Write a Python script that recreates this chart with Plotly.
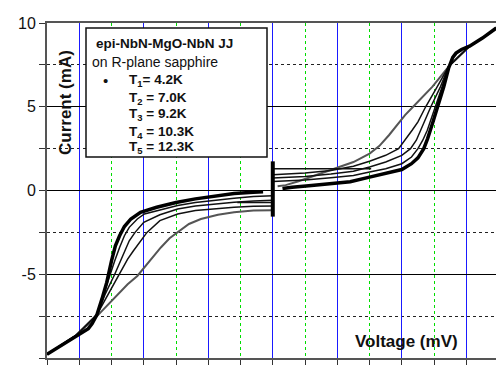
import plotly.graph_objects as go

# ---------------- data ----------------
# T1 = 4.2 K
t1_neg_v = [-7.0, -6.6, -6.1, -5.9, -5.72, -5.6, -5.45, -5.3, -5.15, -5.0, -4.88, -4.75, -4.6, -4.4, -4.1, -3.6, -3.0, -2.4, -1.8, -1.2, -0.6, -0.3]
t1_neg_i = [-9.78, -9.3, -8.65, -8.45, -8.25, -7.95, -7.4, -6.5, -5.5, -4.2, -3.3, -2.7, -2.15, -1.7, -1.3, -1.0, -0.72, -0.5, -0.32, -0.18, -0.1, -0.08]
t1_pos_v = [0.3, 0.6, 1.2, 1.8, 2.4, 3.0, 3.5, 4.0, 4.3, 4.5, 4.68, 4.8, 4.95, 5.1, 5.3, 5.45, 5.58, 5.68, 5.85, 6.1, 6.5, 6.93]
t1_pos_i = [0.12, 0.2, 0.3, 0.4, 0.52, 0.8, 1.0, 1.25, 1.6, 1.95, 2.5, 3.1, 4.0, 4.9, 6.2, 7.3, 7.95, 8.2, 8.42, 8.62, 9.1, 9.7]

# T2 = 7.0 K
t2_neg_v = [-7.0, -6.6, -6.1, -5.45, -5.25, -5.05, -4.9, -4.75, -4.6, -4.45, -4.2, -3.98, -3.5, -2.95, -2.4, -1.8, -1.2, -0.6, 0.0]
t2_neg_i = [-9.78, -9.3, -8.65, -7.4, -6.2, -5.0, -4.2, -3.4, -2.7, -2.2, -1.7, -1.4, -1.15, -0.9, -0.72, -0.58, -0.46, -0.36, -0.32]
t2_pos_v = [0.0, 0.5, 1.0, 1.8, 2.5, 3.0, 3.5, 4.0, 4.3, 4.5, 4.65, 4.79, 4.92, 5.05, 5.25, 5.45, 6.1, 6.5, 6.93]
t2_pos_i = [0.54, 0.57, 0.63, 0.76, 0.9, 1.1, 1.3, 1.6, 2.0, 2.5, 3.0, 3.6, 4.3, 5.0, 6.2, 7.4, 8.62, 9.1, 9.7]

# T3 = 9.2 K
t3_neg_v = [-7.0, -6.6, -6.1, -5.45, -5.2, -4.9, -4.75, -4.58, -4.45, -4.27, -4.0, -3.5, -2.95, -2.4, -1.8, -1.2, -0.6, 0.0]
t3_neg_i = [-9.78, -9.3, -8.65, -7.4, -6.2, -5.0, -4.3, -3.6, -3.0, -2.5, -1.9, -1.45, -1.1, -0.92, -0.8, -0.7, -0.62, -0.58]
t3_pos_v = [0.0, 0.5, 1.0, 1.8, 2.5, 3.0, 3.5, 4.0, 4.27, 4.45, 4.58, 4.75, 4.9, 5.2, 5.45, 6.1, 6.5, 6.93]
t3_pos_i = [0.74, 0.78, 0.84, 0.98, 1.15, 1.4, 1.7, 2.1, 2.5, 3.0, 3.6, 4.3, 5.0, 6.2, 7.4, 8.62, 9.1, 9.7]

# T4 = 10.3 K
t4_neg_v = [-7.0, -6.6, -6.1, -5.45, -5.1, -4.74, -4.5, -4.32, -4.1, -3.9, -3.5, -2.95, -2.4, -1.8, -1.2, -0.6, 0.0]
t4_neg_i = [-9.78, -9.3, -8.65, -7.4, -6.2, -5.0, -4.1, -3.6, -3.0, -2.5, -1.8, -1.4, -1.2, -1.08, -1.0, -0.94, -0.92]
t4_pos_v = [0.0, 0.5, 1.0, 1.8, 2.5, 3.0, 3.5, 3.9, 4.1, 4.32, 4.5, 4.74, 5.1, 5.45, 6.1, 6.5, 6.93]
t4_pos_i = [0.94, 0.98, 1.05, 1.2, 1.45, 1.75, 2.1, 2.5, 3.0, 3.6, 4.1, 5.0, 6.2, 7.4, 8.62, 9.1, 9.7]

# T5 = 12.3 K
t5_neg_v = [-7.0, -6.6, -6.1, -5.45, -5.0, -4.5, -4.2, -3.98, -3.7, -3.47, -3.2, -2.95, -2.6, -2.23, -1.7, -1.2, -0.6, 0.0]
t5_neg_i = [-9.78, -9.3, -8.65, -7.5, -6.6, -5.6, -5.1, -4.6, -3.9, -3.4, -2.85, -2.5, -2.0, -1.7, -1.45, -1.3, -1.2, -1.18]
t5_pos_v = [0.15, 0.4, 0.8, 1.3, 2.0, 2.5, 3.0, 3.3, 3.6, 3.85, 4.1, 4.35, 4.6, 4.95, 5.2, 5.45, 6.1, 6.5, 6.93]
t5_pos_i = [0.25, 0.32, 0.55, 0.9, 1.35, 1.7, 2.2, 2.65, 3.3, 3.9, 4.5, 5.0, 5.5, 6.2, 6.8, 7.4, 8.62, 9.1, 9.7]

# supercurrent branch at V = 0 and switching jumps
bar_v = [0.0, 0.0]
bar_i = [-1.56, 1.74]
jump_pos_v = [0.0, 3.05]
jump_pos_i = [1.3, 1.3]
jump_neg_v = [0.0, -1.1]
jump_neg_i = [-0.72, -0.72]

legend_title = "epi-NbN-MgO-NbN JJ"
legend_sub = "on R-plane sapphire"
legend_labels = ["T<sub>1</sub>= 4.2K", "T<sub>2</sub> = 7.0K", "T<sub>3</sub> = 9.2K",
                 "T<sub>4</sub> = 10.3K", "T<sub>5</sub> = 12.3K"]
y_tick_vals = [-10, -5, 0, 5, 10]
y_tick_text = ["-10", "-5", "0", "5", "10"]
x_range = [-7.0, 6.92]
y_range = [-10, 10]

FONT = "Liberation Sans, Arial, sans-serif"

fig = go.Figure()


def add_curve(v, i, color, width):
    fig.add_trace(go.Scatter(x=v, y=i, mode="lines", line=dict(color=color, width=width),
                             showlegend=False, hoverinfo="skip"))


# T5 (grey) under the others
add_curve(t5_neg_v, t5_neg_i, "#555555", 2)
add_curve(t5_pos_v, t5_pos_i, "#555555", 2)
for v, i in [(t4_neg_v, t4_neg_i), (t4_pos_v, t4_pos_i), (t3_neg_v, t3_neg_i), (t3_pos_v, t3_pos_i),
             (t2_neg_v, t2_neg_i), (t2_pos_v, t2_pos_i), (jump_pos_v, jump_pos_i), (jump_neg_v, jump_neg_i)]:
    add_curve(v, i, "#111111", 1.5)
add_curve(t1_neg_v, t1_neg_i, "#000000", 3.5)
add_curve(t1_pos_v, t1_pos_i, "#000000", 3.5)
add_curve(bar_v, bar_i, "#000000", 4)

fig.update_layout(
    width=496, height=365,
    margin=dict(l=47, r=0, t=23, b=7, pad=0),
    paper_bgcolor="white", plot_bgcolor="white",
    showlegend=False, hovermode=False,
    font=dict(family=FONT, color="black"),
    xaxis=dict(range=x_range, tickmode="linear", tick0=0, dtick=2, ticks="outside", ticklen=5,
               tickcolor="#333333", tickwidth=1, showticklabels=False,
               showgrid=True, gridcolor="#1a1aff", gridwidth=1, zeroline=False,
               showline=True, linecolor="#555555", linewidth=2, mirror=True,
               minor=dict(tickmode="linear", tick0=1, dtick=1, ticks="outside", ticklen=5,
                          tickcolor="#333333", tickwidth=1,
                          showgrid=True, gridcolor="#00dd00", gridwidth=1, griddash="dot")),
    yaxis=dict(range=y_range, tickmode="array", tickvals=y_tick_vals, ticktext=y_tick_text,
               ticks="outside", ticklen=6, tickcolor="#333333", tickwidth=1,
               tickfont=dict(size=16, family=FONT, color="#111111"),
               showgrid=True, gridcolor="#000000", gridwidth=1, zeroline=False,
               showline=True, linecolor="#555555", linewidth=2,
               minor=dict(tickmode="linear", tick0=2.5, dtick=5, ticks="outside", ticklen=6,
                          tickcolor="#333333", tickwidth=1,
                          showgrid=True, gridcolor="#222222", gridwidth=1, griddash="dot")),
)


def px_x(X):
    return (X - 47) / 449.0


def px_y(Y):
    return (358 - Y) / 335.0


# legend box
fig.add_shape(type="rect", xref="paper", yref="paper", x0=px_x(86), x1=px_x(267), y0=px_y(157), y1=px_y(28),
              line=dict(color="#111111", width=1.5), fillcolor="white", layer="above")

ann = []
ann.append(dict(text="<b>" + legend_title + "</b>", x=px_x(94), y=px_y(44), xanchor="left", yanchor="middle",
                font=dict(size=13.5, family=FONT, color="#111111")))
ann.append(dict(text=legend_sub, x=px_x(90), y=px_y(62), xanchor="left", yanchor="middle",
                font=dict(size=14, family=FONT, color="#111111")))
ann.append(dict(text="•", x=px_x(105), y=px_y(80), xanchor="center", yanchor="middle",
                font=dict(size=15, family=FONT, color="#111111")))
row_y = [80, 98, 114, 132, 147]
for lab, yy in zip(legend_labels, row_y):
    ann.append(dict(text="<b>" + lab + "</b>", x=px_x(127), y=px_y(yy), xanchor="left", yanchor="middle",
                    font=dict(size=13.5, family=FONT, color="#111111")))
ann.append(dict(text="<b>Current (mA)</b>", x=px_x(65), y=px_y(103), xanchor="center", yanchor="middle",
                textangle=-90, font=dict(size=17, family=FONT, color="#111111")))
ann.append(dict(text="<b>Voltage (mV)</b>", x=px_x(406), y=px_y(341), xanchor="center", yanchor="middle",
                font=dict(size=17, family=FONT, color="#111111")))
for a in ann:
    a.update(xref="paper", yref="paper", showarrow=False)
fig.update_layout(annotations=ann)

fig.write_html("out.html")
